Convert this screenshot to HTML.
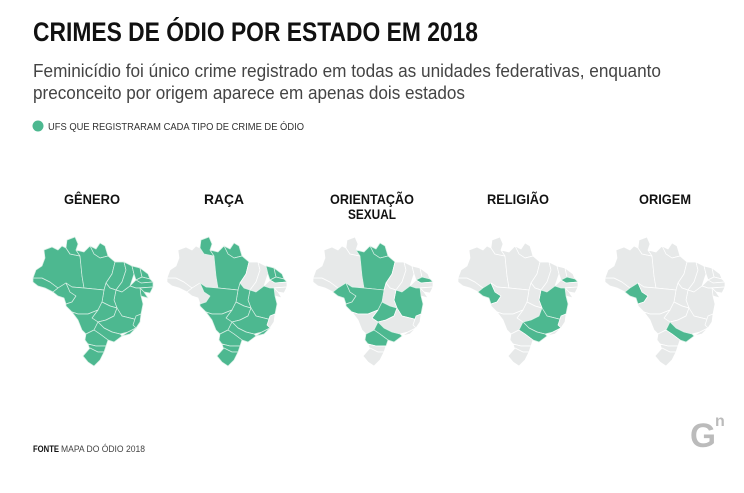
<!DOCTYPE html>
<html><head><meta charset="utf-8"><style>
html,body{margin:0;padding:0;background:#fff;}
svg{display:block;font-family:"Liberation Sans",sans-serif;}
</style></head><body>
<svg width="744" height="493" viewBox="0 0 744 493" xmlns="http://www.w3.org/2000/svg">
<defs>
<g id="AC"><polygon points="33,278 33,282 38,286 45,288 53,292 58,288 50,282 42,278"/></g>
</defs>
<text x="33" y="41" font-size="27" font-weight="bold" fill="#111" textLength="445" lengthAdjust="spacingAndGlyphs">CRIMES DE ÓDIO POR ESTADO EM 2018</text>
<text x="33" y="77" font-size="18" fill="#444" textLength="628" lengthAdjust="spacingAndGlyphs">Feminicídio foi único crime registrado em todas as unidades federativas, enquanto</text>
<text x="33" y="99" font-size="18" fill="#444" textLength="432" lengthAdjust="spacingAndGlyphs">preconceito por origem aparece em apenas dois estados</text>
<circle cx="38" cy="126" r="5.5" fill="#4db890"/>
<text x="48" y="130" font-size="10.5" fill="#333" textLength="256" lengthAdjust="spacingAndGlyphs">UFS QUE REGISTRARAM CADA TIPO DE CRIME DE ÓDIO</text>
<g font-size="14" font-weight="bold" fill="#111" text-anchor="middle">
<text x="92" y="204" textLength="56" lengthAdjust="spacingAndGlyphs">GÊNERO</text>
<text x="224" y="204" textLength="40" lengthAdjust="spacingAndGlyphs">RAÇA</text>
<text x="372" y="204" textLength="84" lengthAdjust="spacingAndGlyphs">ORIENTAÇÃO</text>
<text x="372" y="219" textLength="48" lengthAdjust="spacingAndGlyphs">SEXUAL</text>
<text x="518" y="204" textLength="62" lengthAdjust="spacingAndGlyphs">RELIGIÃO</text>
<text x="665" y="204" textLength="52" lengthAdjust="spacingAndGlyphs">ORIGEM</text>
</g>
<script>
var S={
AC:"33,278 33,282 38,286 45,288 53,292 58,288 50,282 42,278",
AM:"36,270 42,266 45,258 44,250 52,247 58,250 62,246 66,248 70,254 80,256 82,276 84,288 72,287 66,283 58,288 50,282 42,278 33,278",
RR:"66,248 67,240 75,237 78,244 76,250 80,256 70,254",
AP:"90,246 96,249 100,243 105,246 108,256 100,258 94,254",
PA:"76,250 84,252 90,246 94,254 100,258 108,256 115,262 112,274 106,283 104,290 84,288 82,276 80,256",
MA:"115,262 124,262 126,270 122,282 116,290 110,288 106,283 112,274",
PI:"124,262 132,266 134,274 130,286 122,292 116,290 122,282 126,270",
CE:"132,266 140,268 142,277 136,280 134,274",
RN:"140,268 148,274 150,279 142,277",
PB:"136,280 142,277 150,279 153,282 141,283",
PE:"130,286 136,280 141,283 153,282 153,287 136,288",
AL:"140,288 153,287 150,293 144,292",
SE:"140,288 144,292 148,298 141,296",
BA:"116,290 122,292 130,286 136,288 140,288 141,296 143,304 141,314 138,320 130,318 122,316 117,308 114,300",
TO:"106,283 110,288 116,290 114,300 117,308 110,306 102,302 104,290",
RO:"53,292 58,288 66,283 70,292 76,296 72,302 66,304 64,298 58,296",
MT:"66,283 72,287 84,288 104,290 102,302 98,310 88,314 78,314 72,312 66,306 66,304 72,302 76,296 70,292",
GO:"102,302 110,306 117,308 114,316 106,320 98,322 92,318 98,310",
MS:"72,312 78,314 88,314 98,310 92,318 98,322 94,330 86,334 82,330 78,320",
MG:"117,308 122,316 130,318 138,320 136,328 128,332 120,334 112,332 104,328 98,322 106,320 114,316",
ES:"136,316 141,314 140,322 136,328 133,325",
RJ:"128,332 136,328 130,334 122,336",
SP:"98,322 104,328 112,332 120,334 122,336 114,342 108,340 100,334 94,330",
PR:"86,334 94,330 100,334 108,340 106,346 96,346 88,344 85,340",
SC:"88,344 96,346 106,346 104,352 98,352 90,350",
RS:"90,348 98,352 104,352 100,360 94,366 88,362 83,356"};
var maps=[[0,null],[134,["RR","PA","AP","CE","RN","PB","BA","TO","MT","GO","MS","MG","RJ","SP","PR","SC","RS"]],
[280,["PA","AP","RO","MT","GO","BA","PB","SP","PR"]],[425,["RO","BA","MG","SP","PB"]],[572,["RO","SP"]]];
var svg=document.querySelector("svg"),ns="http://www.w3.org/2000/svg";
maps.forEach(function(m){var g=document.createElementNS(ns,"g");g.setAttribute("transform","translate("+m[0]+",0)");
for(var k in S){var p=document.createElementNS(ns,"polygon");p.setAttribute("points",S[k]);
var on=!m[1]||m[1].indexOf(k)>=0;p.setAttribute("fill",on?"#4db890":"#e7e9e9");
p.setAttribute("stroke",on?"#d8efe5":"#fff");p.setAttribute("stroke-width","0.7");p.setAttribute("stroke-linejoin","round");g.appendChild(p);}
svg.appendChild(g);});
</script>
<text x="33" y="452" font-size="9" fill="#111" font-weight="bold" textLength="26" lengthAdjust="spacingAndGlyphs">FONTE</text>
<text x="61" y="452" font-size="9" fill="#444" textLength="84" lengthAdjust="spacingAndGlyphs">MAPA DO ÓDIO 2018</text>
<text x="690" y="447" font-size="34" font-weight="bold" fill="#bbb" textLength="26" lengthAdjust="spacingAndGlyphs">G</text>
<text x="715" y="426" font-size="16" font-weight="bold" fill="#bbb">n</text>
</svg>
</body></html>
